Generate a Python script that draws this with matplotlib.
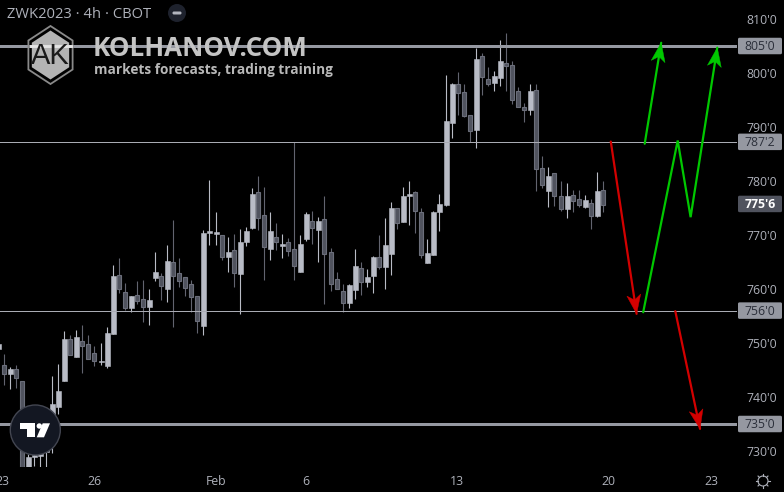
import numpy as np
import matplotlib
matplotlib.use("Agg")
import matplotlib.pyplot as plt
from matplotlib.patches import Polygon, Circle, FancyBboxPatch

plt.rcParams['font.family'] = ['Open Sans', 'DejaVu Sans']

# 4h candles, prices
opens = [748.8, 745.9, 744.3, 745.1, 743.0, 726.0, 728.8, 729.0, 729.8, 731.4,
         738.2, 743.0, 750.8, 747.4, 750.3, 749.9, 748.2, 746.4, 745.8, 751.7,
         762.6, 759.5, 756.5, 758.9, 758.2, 756.7, 762.1, 762.4, 760.0, 765.0,
         763.0, 762.2, 760.9, 758.7, 753.2, 770.4, 770.1, 770.0, 765.9, 767.2,
         762.8, 768.7, 771.3, 778.0, 773.7, 767.4, 769.6, 768.0, 768.7, 767.4,
         763.2, 769.3, 772.6, 770.9, 773.0, 766.9, 761.9, 759.6, 757.4, 759.8,
         763.9, 761.3, 762.4, 765.9, 764.1, 766.5, 775.0, 772.4, 777.2, 778.0,
         774.3, 764.8, 766.3, 774.3, 775.6, 790.8, 798.0, 796.5, 792.2, 789.5,
         803.1, 798.9, 798.2, 799.1, 801.9, 801.5, 796.7, 793.7, 793.2, 796.9,
         782.4, 778.2, 781.5, 777.2, 774.8, 777.4, 776.7, 775.2, 775.9, 773.5,
         778.3]
closes = [749.9, 744.3, 745.2, 743.6, 726.0, 728.9, 729.3, 731.0, 733.0, 738.7,
          741.1, 750.8, 747.8, 751.1, 749.5, 747.1, 746.7, 746.6, 751.9, 762.4,
          760.0, 756.5, 758.7, 757.8, 756.7, 758.0, 763.2, 760.6, 765.2, 762.4,
          761.5, 760.2, 758.5, 754.1, 770.4, 770.8, 770.5, 765.9, 766.9, 763.0,
          768.7, 770.7, 777.6, 773.2, 767.8, 770.7, 768.7, 768.3, 767.0, 764.3,
          768.3, 773.9, 771.3, 772.6, 766.5, 760.9, 760.0, 757.4, 760.8, 764.3,
          761.3, 762.2, 765.9, 764.1, 768.2, 775.0, 772.2, 777.2, 777.6, 774.5,
          766.3, 766.7, 774.3, 775.8, 791.1, 798.0, 796.3, 792.0, 789.3, 802.6,
          799.3, 798.0, 799.4, 802.2, 801.3, 795.0, 793.7, 793.2, 796.7, 782.2,
          779.3, 781.0, 777.2, 774.8, 777.2, 776.3, 775.6, 776.5, 773.5, 778.2,
          775.6]
highs = [749.9, 748.0, 745.5, 745.9, 743.0, 729.5, 729.5, 732.0, 734.0, 743.9,
         746.1, 752.2, 751.5, 752.4, 753.3, 751.5, 749.5, 750.0, 753.0, 764.4,
         765.7, 761.1, 758.7, 761.5, 761.7, 760.0, 766.9, 763.0, 768.1, 772.8,
         765.7, 762.2, 761.7, 758.7, 770.9, 780.2, 774.3, 770.0, 769.6, 770.2,
         771.1, 771.5, 778.7, 780.9, 778.9, 774.3, 772.2, 770.2, 769.4, 787.2,
         770.0, 774.3, 774.5, 773.3, 777.2, 767.6, 763.2, 760.9, 760.9, 767.4,
         765.0, 763.7, 766.1, 770.0, 773.2, 776.1, 775.0, 778.9, 780.0, 778.1,
         775.0, 769.3, 774.5, 777.6, 799.6, 798.2, 800.2, 798.0, 792.2, 804.6,
         803.7, 801.1, 800.4, 806.1, 807.4, 802.2, 797.4, 794.4, 798.0, 798.0,
         784.6, 782.6, 781.5, 780.0, 779.6, 778.3, 778.3, 777.4, 776.7, 781.7,
         780.0]
lows = [748.8, 742.2, 741.5, 741.7, 726.0, 726.0, 727.2, 727.0, 727.1, 729.6,
        736.9, 743.0, 747.8, 747.4, 744.5, 747.1, 745.8, 745.9, 745.4, 751.7,
        759.3, 756.1, 755.8, 757.2, 753.9, 753.3, 761.5, 758.0, 757.6, 753.0,
        760.4, 758.7, 755.8, 751.9, 751.5, 768.2, 768.2, 765.4, 763.2, 760.4,
        755.4, 768.0, 771.1, 770.9, 761.7, 765.4, 767.2, 765.8, 766.1, 761.7,
        763.2, 768.9, 768.3, 765.0, 757.2, 759.6, 760.0, 755.8, 756.5, 758.1,
        758.9, 760.4, 759.3, 763.7, 760.0, 762.6, 771.1, 772.4, 771.9, 770.4,
        765.8, 764.8, 766.3, 770.7, 775.4, 788.0, 792.2, 791.9, 787.2, 786.1,
        795.9, 797.6, 796.7, 797.6, 796.7, 794.3, 793.7, 790.9, 792.2, 778.2,
        778.7, 775.2, 775.4, 774.5, 773.2, 774.3, 775.2, 775.0, 771.1, 773.3,
        774.3]

# bars where the spacing jumps a pixel in the picture
gap_bars = [17, 36, 55, 74, 93]

price_ticks = [810, 800, 790, 780, 770, 760, 750, 740, 730]
price_tick_labels = ["810'0", "800'0", "790'0", "780'0", "770'0", "760'0", "750'0", "740'0", "730'0"]
date_ticks = [0.33, 15.67, 36, 51, 76.17, 101.33, 118.5]
date_labels = ["23", "26", "Feb", "6", "13", "20", "23"]

levels = [805, 787.25, 756, 735]
level_labels = ["805'0", "787'2", "756'0", "735'0"]
level_widths = [3, 1, 1, 3]
last_price = 775.75
last_label = "775'6"

red_paths = [([101.8, 106.1], [787.3, 755.4]),
             ([112.55, 116.67], [755.9, 734.1])]
green_paths = [([107.45, 110.2], [786.9, 805.6]),
               ([107.2, 112.95, 115.1, 119.55], [755.7, 787.5, 773.3, 804.7])]

W, H = 784, 492
PLOT_R, PLOT_B = 737, 467
BAR_PX = 6.0
PRICE_PX = 5.4
UP = "#b9bcc6"
DOWN = "#50535e"
DOWN_EDGE = "#6b6e7a"
DOWN_WICK = "#62646f"
TXT = "#aeb1ba"
BG = "#000000"
LEVEL = "#9598a1"

fig = plt.figure(figsize=(W / 100, H / 100), dpi=100, facecolor=BG)
ax = fig.add_axes([0, (H - PLOT_B) / H, PLOT_R / W, PLOT_B / H], facecolor=BG)
ax.set_xlim(0, PLOT_R / BAR_PX)
ax.set_ylim(810 - (PLOT_B - 19) / PRICE_PX, 810 + 19 / PRICE_PX)

opens = np.array(opens)
closes = np.array(closes)
idx = np.arange(len(opens))
x = idx - 0.28 + np.searchsorted(gap_bars, idx, side="right") / BAR_PX
up = closes >= opens

ax.vlines(x[up], np.array(lows)[up], np.array(highs)[up], color=UP, lw=0.8, zorder=2)
ax.vlines(x[~up], np.array(lows)[~up], np.array(highs)[~up], color=DOWN_WICK, lw=0.8, zorder=2)
body_bot = np.minimum(opens, closes)
body_h = np.abs(closes - opens)
ax.bar(x[up], body_h[up], 0.78, body_bot[up], color=UP, edgecolor=UP, lw=0.4, zorder=3)
ax.bar(x[~up], body_h[~up], 0.7, body_bot[~up], color=DOWN, edgecolor=DOWN_EDGE, lw=0.8, zorder=3)

for lev, w in zip(levels, level_widths):
    ax.axhline(lev, color=LEVEL if w > 1 else "#a9abb3", lw=w * 0.72, zorder=4)


def box(price, label, face, col, weight="normal"):
    left = 738 / BAR_PX
    wid = 44 / BAR_PX
    hgt = 16.5 / PRICE_PX
    ax.add_patch(FancyBboxPatch((left, price - hgt / 2), wid, hgt, boxstyle="round,pad=0,rounding_size=0.25",
                                mutation_aspect=1.1, fc=face, ec="none", clip_on=False, zorder=6))
    ax.text(left + wid / 2, price - 0.1, label, color=col, fontsize=8.8, fontweight=weight, ha="center", va="center",
            clip_on=False, zorder=7)


for lev, lab in zip(levels, level_labels):
    box(lev, lab, "#9598a1", "#2a2e39")
box(last_price, last_label, "#50535e", "#ffffff", "bold")


def arrow(xs, ys, col):
    ax.plot(xs, ys, color=col, lw=1.6, solid_capstyle="round", solid_joinstyle="miter", zorder=8)
    # head worked out in pixels, so it keeps its shape
    dx = (xs[-1] - xs[-2]) * BAR_PX
    dy = (ys[-1] - ys[-2]) * PRICE_PX
    n = np.hypot(dx, dy)
    ux, uy = dx / n, dy / n
    px, py = -uy, ux
    pts = [(0, 0), (-19, 7), (-14, 0), (-19, -7)]
    poly = [(xs[-1] + (a * ux + b * px) / BAR_PX, ys[-1] + (a * uy + b * py) / PRICE_PX) for a, b in pts]
    ax.add_patch(Polygon(poly, closed=True, fc=col, ec=col, lw=0.3, zorder=8))


for xs, ys in red_paths:
    arrow(xs, ys, "#d30000")
for xs, ys in green_paths:
    arrow(xs, ys, "#00c800")

ax.yaxis.tick_right()
ax.set_yticks(price_ticks)
ax.set_yticklabels(price_tick_labels)
ax.set_xticks(date_ticks)
ax.set_xticklabels(date_labels)
ax.tick_params(axis="y", length=0, pad=7, labelsize=8.8, labelcolor=TXT)
ax.tick_params(axis="x", length=0, pad=6, labelsize=8.8, labelcolor=TXT)
for s in ax.spines.values():
    s.set_visible(False)

# overlay in pixels for watermark, header and logos
ov = fig.add_axes([0, 0, 1, 1], facecolor="none")
ov.set_xlim(0, W)
ov.set_ylim(H, 0)
ov.axis("off")

ov.text(7, 14, "ZWK2023 · 4h · CBOT", color=TXT, fontsize=10.6, va="center", ha="left")
ov.add_patch(Circle((177, 13), 9, fc="#1e222d", ec="none"))
ov.add_patch(FancyBboxPatch((172.5, 11.5), 9, 3, boxstyle="round,pad=0,rounding_size=1.4", fc="#b2b5be", ec="none"))


def hexagon(cx, cy, r):
    a = np.radians(np.arange(-90, 270, 60))
    return np.column_stack([cx + r * 0.88 * np.cos(a), cy + r * np.sin(a)])


ov.add_patch(Polygon(hexagon(50.5, 55, 29), closed=True, fc="none", ec="#8a8a8a", lw=1.3))
ov.add_patch(Polygon(hexagon(50.5, 55, 24.5), closed=True, fc="#b4b4b4", ec="none"))
ov.plot([31, 71], [46, 46], color="#e4e4e4", lw=2.1)
ov.text(50.5, 55.5, "AK", color="#1a1a1a", fontsize=21, ha="center", va="center", fontfamily="Liberation Sans")
ov.text(93, 48.5, "KOLHANOV.COM", color="#c4c4c4", fontsize=18.7, fontweight="bold", ha="left", va="center")
ov.text(94, 70, "markets forecasts, trading training", color="#b8b8b8", fontsize=9.85, fontweight="bold",
        ha="left", va="center")

# tradingview badge
ov.add_patch(Circle((35.3, 430), 25, fc="#131722", ec="#434651", lw=1))
ov.add_patch(Polygon([(20, 423.3), (35, 423.3), (35, 437.3), (26.7, 437.3), (26.7, 429), (20, 429)], fc="white", ec="none"))
ov.add_patch(Circle((39.3, 426), 2.7, fc="white", ec="none"))
ov.add_patch(Polygon([(50, 423.3), (42.7, 423.3), (36.7, 437.3), (44, 437.3)], fc="white", ec="none"))

# settings gear
ov.add_patch(Circle((763, 481), 5, fc="none", ec=TXT, lw=0.8))
for t in np.radians(np.arange(0, 360, 45)):
    ov.plot([763 + 5 * np.cos(t), 763 + 7 * np.cos(t)], [481 + 5 * np.sin(t), 481 + 7 * np.sin(t)], color=TXT, lw=0.8)

fig.savefig("out.png", dpi=100, facecolor=BG)
